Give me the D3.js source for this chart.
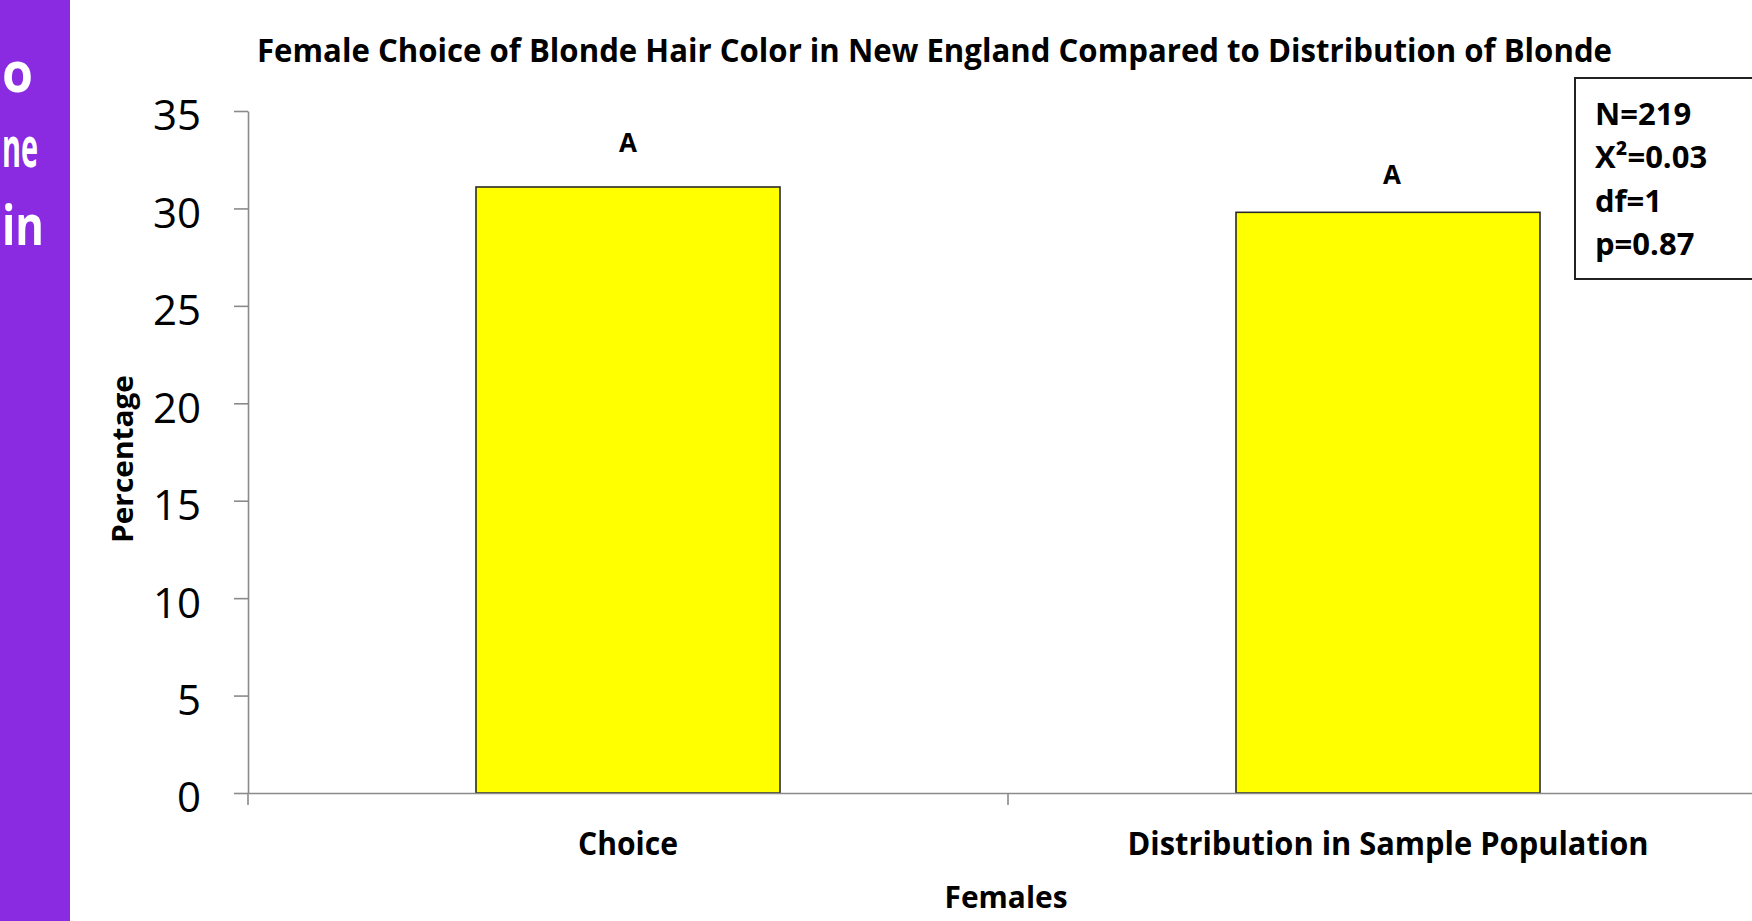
<!DOCTYPE html>
<html>
<head>
<meta charset="utf-8">
<script src="https://cdn.jsdelivr.net/npm/d3@7"></script>
<style>
  html, body { margin: 0; padding: 0; background: #fff; overflow: hidden; }
  svg { display: block; }
  text { font-family: "Open Sans", "Liberation Sans", sans-serif; }
</style>
</head>
<body>
<svg id="chart" width="1752" height="921"></svg>
<script>
// ---- data ----
const categories = ["Choice", "Distribution in Sample Population"];
const percentages = [31.1, 29.8];
const letters = ["A", "A"];
const yTicks = [0, 5, 10, 15, 20, 25, 30, 35];
const statsLines = ["N=219", "X\u00B2=0.03", "df=1", "p=0.87"];
const sideText = ["o", "ne", "in"];
const titleText = "Female Choice of Blonde Hair Color in New England Compared to Distribution of Blonde";
const xTitle = "Females";
const yTitle = "Percentage";

// ---- layout ----
const W = 1752, H = 921;
const plot = { left: 248, right: 1768, top: 111, bottom: 793 };
const svg = d3.select("#chart");

// purple side panel
svg.append("rect").attr("x", 0).attr("y", 0).attr("width", 70).attr("height", H).attr("fill", "#8A2BE2");
const sideBaselines = [92, 167, 245];
const sideWidths = [31, 36, 42];
svg.selectAll("text.side").data(sideText).join("text")
  .attr("class", "side")
  .attr("x", 2)
  .attr("y", (d, i) => sideBaselines[i])
  .attr("fill", "#fff")
  .attr("font-weight", 700)
  .attr("font-size", 56)
  .attr("textLength", (d, i) => sideWidths[i]).attr("lengthAdjust", "spacingAndGlyphs")
  .text(d => d);

// scales
const x = d3.scaleBand().domain(categories).range([plot.left, plot.right]).paddingInner(0.6).paddingOuter(0.3);
const y = d3.scaleLinear().domain([0, 35]).range([plot.bottom, plot.top]);

const axisColor = "#8a8a8a";

// title
svg.append("text")
  .attr("x", 257).attr("y", 62)
  .attr("font-size", 33).attr("font-weight", 700)
  .attr("textLength", 1355).attr("lengthAdjust", "spacingAndGlyphs")
  .text(titleText);

// bars
svg.selectAll("rect.bar").data(percentages).join("rect")
  .attr("class", "bar")
  .attr("x", (d, i) => x(categories[i]))
  .attr("width", x.bandwidth())
  .attr("y", d => y(d))
  .attr("height", d => y(0) - y(d))
  .attr("fill", "#FFFF00")
  .attr("stroke", "#2b2b2b")
  .attr("stroke-width", 1.6);

// letter labels
const letterGap = [35, 28];
const letterShift = [0, 4];
svg.selectAll("text.letter").data(percentages).join("text")
  .attr("class", "letter")
  .attr("x", (d, i) => x(categories[i]) + x.bandwidth() / 2 + letterShift[i])
  .attr("y", (d, i) => y(d) - letterGap[i])
  .attr("text-anchor", "middle")
  .attr("font-size", 26).attr("font-weight", 700)
  .text((d, i) => letters[i]);

// y axis
const yAxis = svg.append("g")
  .attr("transform", `translate(${plot.left},0)`)
  .call(d3.axisLeft(y).tickValues(yTicks).tickSize(14).tickSizeOuter(0).tickPadding(33));
yAxis.select(".domain").attr("stroke", axisColor).attr("stroke-width", 1.6);
yAxis.selectAll(".tick line").attr("stroke", axisColor).attr("stroke-width", 1.6);
yAxis.selectAll(".tick text")
  .attr("font-family", "'Open Sans', sans-serif")
  .attr("font-size", 42).attr("fill", "#000").attr("dy", "0.45em");

// x axis
const xAxis = svg.append("g")
  .attr("transform", `translate(0,${plot.bottom})`)
  .call(d3.axisBottom(x).tickSize(0).tickSizeOuter(0).tickPadding(39));
xAxis.select(".domain").attr("stroke", axisColor).attr("stroke-width", 1.6);
const catWidths = [100, 521];
xAxis.selectAll(".tick text")
  .attr("font-family", "'Open Sans', sans-serif")
  .attr("font-size", 32).attr("font-weight", 700).attr("fill", "#000")
  .attr("textLength", (d, i) => catWidths[i]).attr("lengthAdjust", "spacingAndGlyphs");
// boundary ticks between categories
const boundaries = categories.map((c, i) => plot.left + i * x.step());
xAxis.selectAll("line.bound").data(boundaries).join("line")
  .attr("class", "bound")
  .attr("x1", d => d).attr("x2", d => d)
  .attr("y1", 0).attr("y2", 12)
  .attr("stroke", axisColor).attr("stroke-width", 1.6);

// axis titles
svg.append("text")
  .attr("x", (plot.left + plot.right) / 2 - 2).attr("y", 908)
  .attr("text-anchor", "middle")
  .attr("font-size", 31).attr("font-weight", 700)
  .attr("textLength", 123).attr("lengthAdjust", "spacingAndGlyphs")
  .text(xTitle);

svg.append("text")
  .attr("transform", "translate(133,459) rotate(-90)")
  .attr("text-anchor", "middle")
  .attr("font-size", 28).attr("font-weight", 700)
  .attr("textLength", 168).attr("lengthAdjust", "spacingAndGlyphs")
  .text(yTitle);

// stats box
svg.append("rect")
  .attr("x", 1575).attr("y", 78).attr("width", 260).attr("height", 201)
  .attr("fill", "#fff").attr("stroke", "#222").attr("stroke-width", 2);
const statBaselines = [125, 168, 212, 255];
svg.selectAll("text.stat").data(statsLines).join("text")
  .attr("class", "stat")
  .attr("x", 1595)
  .attr("y", (d, i) => statBaselines[i])
  .attr("font-size", 31).attr("font-weight", 700)
  .text(d => d);
</script>
</body>
</html>
